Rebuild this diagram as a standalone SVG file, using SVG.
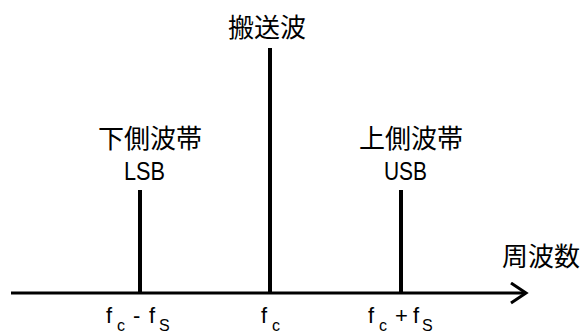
<svg xmlns="http://www.w3.org/2000/svg" width="588" height="336" viewBox="0 0 588 336">
<style>
.jp{font-family:"Noto Sans CJK JP","Liberation Sans",sans-serif;font-size:26px;fill:#000}
.lat{font-family:"Liberation Sans",sans-serif;fill:#000}
.f{font-size:22px}
.sub{font-size:16px}
.bar{stroke:#000;stroke-width:4;fill:none}
.axis{stroke:#000;stroke-width:3;fill:none}
</style>
<defs>
<marker id="arr" markerWidth="20" markerHeight="24" refX="16" refY="11" orient="auto" markerUnits="userSpaceOnUse">
<path d="M1,1 L16,11 L1,21" fill="none" stroke="#000" stroke-width="3"/>
</marker>
</defs>
<g id="connectors">
<line class="axis" x1="11" y1="293" x2="526" y2="293" marker-end="url(#arr)"/>
</g>
<g id="carrier">
<line class="bar" x1="270" y1="48" x2="270" y2="293"/>
<text class="jp" x="228" y="37">搬送波</text>
</g>
<g id="lsb">
<line class="bar" x1="140" y1="190" x2="140" y2="293"/>
<text class="jp" x="98" y="148">下側波帯</text>
<text class="lat" x="124" y="180" font-size="26" textLength="41" lengthAdjust="spacingAndGlyphs">LSB</text>
</g>
<g id="usb">
<line class="bar" x1="401" y1="190" x2="401" y2="293"/>
<text class="jp" x="359" y="148">上側波帯</text>
<text class="lat" x="384" y="180" font-size="26" textLength="43" lengthAdjust="spacingAndGlyphs">USB</text>
</g>
<g id="freq-label">
<text class="jp" x="502" y="266">周波数</text>
</g>
<g id="ticks">
<text class="lat" y="323"><tspan class="f" x="106">f</tspan><tspan class="sub" x="117" y="331">c</tspan><tspan class="f" x="133" y="323">-</tspan><tspan class="f" x="149">f</tspan><tspan class="sub" x="159" y="331">S</tspan></text>
<text class="lat" y="323"><tspan class="f" x="261">f</tspan><tspan class="sub" x="272" y="331">c</tspan></text>
<text class="lat" y="323"><tspan class="f" x="368">f</tspan><tspan class="sub" x="379" y="331">c</tspan><tspan class="f" x="395" y="323">+</tspan><tspan class="f" x="413">f</tspan><tspan class="sub" x="422" y="331">S</tspan></text>
</g>
</svg>
